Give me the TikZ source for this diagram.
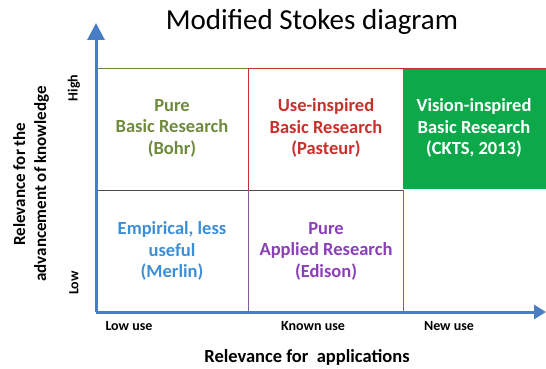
\documentclass[tikz,border=0pt]{standalone}
\usepackage{fontspec}
\setmainfont{Carlito}
\usepackage{tikz}
\usetikzlibrary{arrows.meta,positioning}
\usepackage{xcolor}
\definecolor{axisblue}{HTML}{4A7EC4}
\definecolor{bohrgreen}{HTML}{6E8B3D}
\definecolor{pasteurred}{HTML}{C8302C}
\definecolor{visiongreen}{HTML}{0DA84A}
\definecolor{merlinblue}{HTML}{3E8ED6}
\definecolor{edisonpurple}{HTML}{8A3FB8}

\begin{document}
\begin{tikzpicture}[x=1pt, y=-1pt, >=Triangle,
    celltext/.style={align=center, font=\bfseries\fontsize{18.5}{21.5}\selectfont},
    ticklabel/.style={font=\bfseries\fontsize{14}{16}\selectfont},
    axislabel/.style={font=\bfseries\fontsize{17}{21}\selectfont}]
    \useasboundingbox (0,0) rectangle (546,369);

    % Title
    \node (title) at (312,22) {\fontsize{29}{32}\selectfont Modified Stokes diagram};

    % Quadrant cells
    \fill[visiongreen] (403,68) rectangle (546,189);
    \draw[bohrgreen] (96,68) rectangle (248,190);
    \draw[pasteurred] (248,68) -- (546,68);
    \draw[pasteurred] (248,68) -- (248,190);
    \draw[black!70] (96,190) -- (403,190);
    \draw[edisonpurple!60!gray] (248,190) -- (248,312);
    \draw[edisonpurple!60!gray] (403,190) -- (403,312);

    % Axes
    \coordinate (O) at (96,312);
    \coordinate (ytip) at (96,23);
    \coordinate (xtip) at (546,312);
    \draw[axisblue, line width=3pt, -{Triangle[length=17pt,width=17pt]}] (O) -- (ytip);
    \draw[axisblue, line width=3pt, -{Triangle[length=12pt,width=14pt]}] (O) -- (xtip);

    % Cell labels
    \node[celltext, text=bohrgreen] (bohr) at (172,128) {Pure\\Basic Research\\(Bohr)};
    \node[celltext, text=pasteurred] (pasteur) at (326,128) {Use-inspired\\Basic Research\\(Pasteur)};
    \node[celltext, text=white] (vision) at (474,128) {Vision-inspired\\Basic Research\\(CKTS, 2013)};
    \node[celltext, text=merlinblue] (merlin) at (172,251) {Empirical, less\\useful\\(Merlin)};
    \node[celltext, text=edisonpurple] (edison) at (326,251) {Pure\\Applied Research\\(Edison)};

    % Tick labels
    \node[ticklabel, rotate=90] (high) at (74,88) {High};
    \node[ticklabel, rotate=90] (low) at (74,283) {Low};
    \node[ticklabel] (lowuse) at (129,326) {Low use};
    \node[ticklabel] (knownuse) at (313,326) {Known use};
    \node[ticklabel] (newuse) at (449,326) {New use};

    % Axis titles
    \node[axislabel, rotate=90, align=center] (ylabel) at (31,184) {Relevance for the\\advancement of knowledge};
    \node[axislabel, font=\bfseries\fontsize{18.5}{21}\selectfont] (xlabel) at (307,357) {Relevance for \ applications};
\end{tikzpicture}
\end{document}
